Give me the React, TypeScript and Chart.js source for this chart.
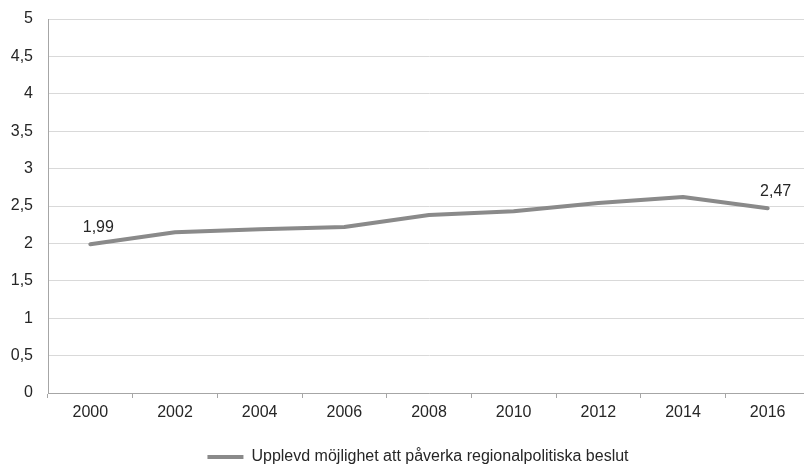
import React, { useEffect, useRef } from "react";
import { Chart, registerables } from "chart.js";

Chart.register(...registerables);

const categories = ["2000", "2002", "2004", "2006", "2008", "2010", "2012", "2014", "2016"];
const seriesName = "Upplevd möjlighet att påverka regionalpolitiska beslut";
const seriesValues = [1.99, 2.15, 2.19, 2.22, 2.38, 2.43, 2.54, 2.62, 2.47];
const labelledIndexes = [0, 8];
const yMin = 0;
const yMax = 5;
const yStep = 0.5;

const LINE = "#8a8a8a";
const TEXT = "#262626";
const GRID = "#d9d9d9";
const AXIS = "#a6a6a6";
const FONT = "'Liberation Sans', Arial, sans-serif";

const fmt = (v: number) => String(v).replace(".", ",");

const dataLabelPlugin = {
  id: "dataLabels",
  afterDatasetsDraw(chart: any) {
    const meta = chart.getDatasetMeta(0);
    const ctx = chart.ctx;
    ctx.save();
    ctx.font = `16px ${FONT}`;
    ctx.fillStyle = TEXT;
    ctx.textAlign = "center";
    ctx.textBaseline = "alphabetic";
    labelledIndexes.forEach((i) => {
      const pt = meta.data[i];
      if (!pt) return;
      ctx.fillText(fmt(seriesValues[i]), pt.x + 8, pt.y - 12);
    });
    ctx.restore();
  },
};

export default function App() {
  const ref = useRef<HTMLCanvasElement | null>(null);

  useEffect(() => {
    if (!ref.current) return;
    Chart.defaults.font.family = FONT;
    Chart.defaults.font.size = 16;
    Chart.defaults.color = TEXT;
    const chart = new Chart(ref.current, {
      type: "line",
      data: {
        labels: categories,
        datasets: [
          {
            label: seriesName,
            data: seriesValues,
            borderColor: LINE,
            backgroundColor: LINE,
            borderWidth: 4,
            pointRadius: 0,
            pointHoverRadius: 0,
            tension: 0,
            borderCapStyle: "round",
            borderJoinStyle: "round",
          },
        ],
      },
      options: {
        animation: false,
        responsive: false,
        events: [],
        layout: { padding: { top: 19, left: 0, right: 0, bottom: 0 } },
        plugins: {
          tooltip: { enabled: false },
          legend: {
            position: "bottom",
            maxHeight: 26,
            labels: {
              boxWidth: 36,
              boxHeight: 4,
              padding: 8,
              color: TEXT,
              font: { size: 16, family: FONT },
              generateLabels: (c: any) =>
                c.data.datasets.map((d: any, i: number) => ({
                  text: d.label,
                  fillStyle: LINE,
                  strokeStyle: LINE,
                  lineWidth: 0,
                  hidden: false,
                  datasetIndex: i,
                  fontColor: TEXT,
                })),
            },
          },
        },
        scales: {
          x: {
            type: "category",
            offset: true,
            grid: {
              offset: true,
              drawOnChartArea: false,
              drawTicks: true,
              tickLength: 5,
              color: AXIS,
            },
            border: { display: true, color: AXIS, width: 1 },
            ticks: { padding: 5, color: TEXT, font: { size: 16 }, maxRotation: 0, autoSkip: false },
            afterFit: (s: any) => {
              s.height = 48;
            },
          },
          y: {
            type: "linear",
            min: yMin,
            max: yMax,
            grid: { color: GRID, drawTicks: false, lineWidth: 1 },
            border: { display: true, color: AXIS, width: 1 },
            ticks: {
              stepSize: yStep,
              padding: 15,
              color: TEXT,
              font: { size: 16 },
              callback: (v: any) => fmt(Number(v)),
            },
            afterFit: (s: any) => {
              s.width = 48;
              s.paddingTop = 0;
              s.paddingBottom = 0;
            },
          },
          yRight: {
            type: "linear",
            position: "right",
            display: true,
            grid: { display: false, drawTicks: false },
            border: { display: false },
            ticks: { display: false },
            afterFit: (s: any) => {
              s.width = 26;
              s.paddingTop = 0;
              s.paddingBottom = 0;
            },
          },
        },
      },
      plugins: [dataLabelPlugin],
    } as any);
    return () => chart.destroy();
  }, []);

  return (
    <div
      style={{
        position: "absolute",
        left: 0,
        top: 0,
        width: 804,
        height: 467,
        overflow: "hidden",
        background: "#fff",
      }}
    >
      <canvas ref={ref} width={836} height={467} style={{ display: "block", width: 836, height: 467 }} />
    </div>
  );
}
